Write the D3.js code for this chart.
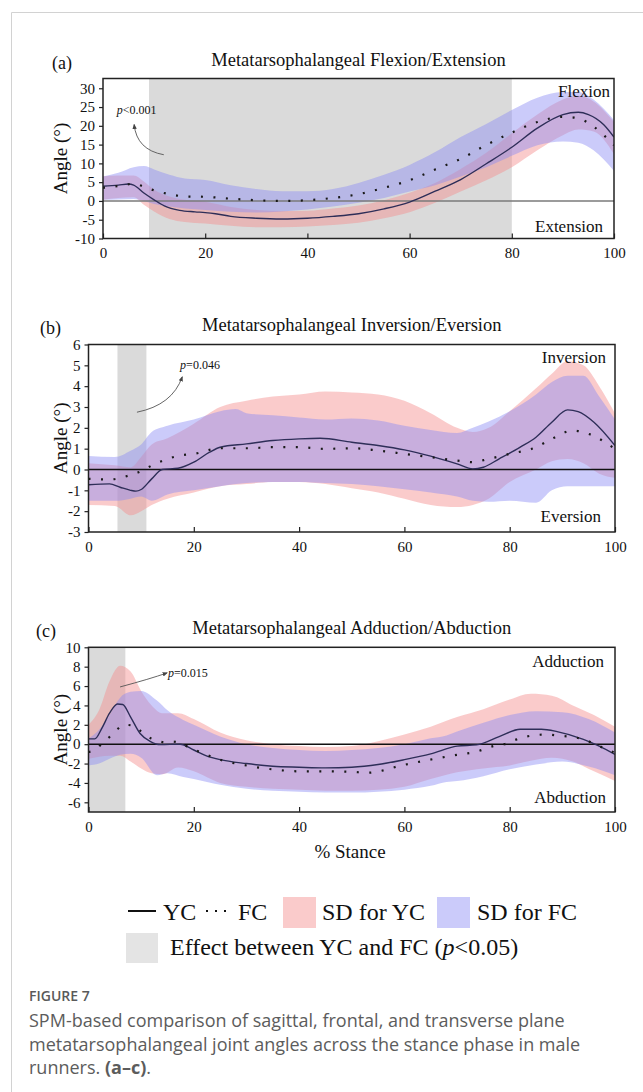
<!DOCTYPE html>
<html lang="en">
<head>
<meta charset="UTF-8">
<title>Figure 7 - MTP joint angles</title>
<script src="https://cdn.jsdelivr.net/npm/d3@7"></script>
<style>
  body { margin: 0; background: #fff; }
  svg { display: block; }
  .serif { font-family: "Liberation Serif", "Times New Roman", serif; fill: #111; }
  .cap { font-family: "Open Sans", "Noto Sans", sans-serif; }
</style>
</head>
<body>
<svg id="fig" width="643" height="1092"></svg>
<script>
// ---------- data (% stance vs angle in degrees) ----------
var stanceTicks = [0, 20, 40, 60, 80, 100];

// (a) flexion / extension
var aTicks = [-10, -5, 0, 5, 10, 15, 20, 25, 30];
var aEffect = [9, 80];
var aYC = [[0,3.9],[3,4.2],[5,4.5],[6,4.2],[8,2.1],[10,0.3],[12,-1.3],[15,-2.5],[18,-2.9],[20,-3.1],[22,-3.4],[25,-4.1],[30,-4.6],[35,-4.8],[40,-4.6],[45,-4.1],[50,-3.4],[55,-2.1],[60,-0.3],[65,2.6],[70,5.7],[75,9.9],[80,14.3],[85,19.4],[90,23.0],[93,23.6],[95,23.0],[98,20.3],[100,17.0]];
var aFC = [[0,3.5],[2,3.8],[4,4.2],[6,4.6],[8,3.8],[10,2.8],[13,1.8],[16,1.2],[20,1.1],[25,0.6],[30,0.2],[35,0.0],[40,0.2],[45,0.8],[50,1.8],[55,3.5],[60,5.5],[65,8.4],[70,11.2],[75,14.9],[80,18.2],[85,21.0],[90,22.4],[93,22.0],[96,19.8],[100,14.8]];
var aYCsd = [[0,0.3,6.6],[3,0.8,6.8],[6,1.0,6.8],[8,-1.0,5.2],[10,-2.8,3.0],[13,-4.8,1.2],[16,-5.6,0.3],[20,-6.0,-0.2],[25,-6.6,-1.6],[30,-7.0,-2.4],[35,-7.0,-2.7],[40,-6.8,-2.6],[45,-6.4,-2.0],[50,-5.8,-1.2],[55,-4.6,0.2],[60,-3.0,2.2],[65,-0.5,4.8],[70,2.5,8.5],[75,5.5,12.8],[80,9.0,18.0],[85,13.5,23.0],[90,17.5,27.0],[93,19.0,28.0],[96,18.5,26.5],[100,12.5,21.0]];
var aFCsd = [[0,0.3,6.5],[3,0.4,7.5],[6,0.5,9.0],[8,0.0,9.3],[10,-0.8,8.4],[13,-1.5,7.0],[16,-2.0,6.0],[20,-2.4,5.6],[25,-2.9,4.2],[30,-3.1,3.2],[35,-2.8,2.6],[40,-2.3,2.6],[45,-1.5,3.2],[50,-0.5,4.8],[55,0.8,7.0],[60,2.5,9.6],[65,4.2,13.0],[70,6.5,17.0],[75,9.0,20.5],[80,12.0,24.2],[85,14.8,27.5],[90,15.8,29.0],[93,15.5,29.0],[96,13.5,27.0],[100,8.0,21.5]];

// (b) inversion / eversion
var bTicks = [-3, -2, -1, 0, 1, 2, 3, 4, 5, 6];
var bEffect = [5.5, 11];
var bYC = [[0,-0.73],[4,-0.69],[6,-0.85],[8,-1.0],[9,-1.04],[10,-0.96],[12,-0.45],[14,0],[17,0.06],[20,0.35],[23,0.83],[25,1.07],[30,1.23],[35,1.39],[40,1.47],[44,1.5],[50,1.31],[55,1.15],[60,0.94],[65,0.64],[70,0.27],[73,0.03],[75,0.11],[78,0.51],[82,1.07],[85,1.55],[88,2.27],[91,2.86],[93,2.78],[96,2.27],[100,1.15]];
var bFC = [[0,-0.45],[4,-0.48],[8,-0.26],[10,-0.08],[12,0.19],[15,0.51],[18,0.7],[20,0.75],[25,1.02],[30,1.02],[35,1.07],[40,1.07],[45,0.99],[50,1.02],[55,0.91],[60,0.75],[65,0.59],[70,0.43],[73,0.35],[76,0.51],[80,0.75],[85,1.07],[88,1.47],[92,1.87],[95,1.71],[100,0.99]];
var bYCsd = [[0,-1.7,0.3],[5,-1.75,0.2],[8,-2.2,0.1],[10,-2.0,0.6],[12,-1.7,1.2],[15,-1.4,1.5],[20,-1.1,2.2],[25,-0.8,3.0],[30,-0.7,3.3],[35,-0.6,3.5],[40,-0.6,3.6],[45,-0.7,3.75],[50,-0.9,3.7],[55,-1.1,3.6],[60,-1.4,3.3],[65,-1.7,2.7],[70,-1.8,2.0],[73,-1.7,1.8],[76,-1.4,2.0],[80,-0.6,2.8],[85,0.0,3.9],[88,0.4,4.6],[91,0.5,5.2],[94,0.3,5.0],[97,-0.2,4.0],[100,-0.4,2.7]];
var bFCsd = [[0,-1.5,0.65],[5,-1.5,0.6],[8,-1.4,0.9],[10,-1.3,1.2],[12,-1.5,1.8],[15,-1.2,2.1],[20,-1.0,2.4],[25,-0.8,2.8],[28,-0.7,2.9],[30,-0.65,2.7],[35,-0.6,2.6],[40,-0.6,2.5],[45,-0.65,2.4],[50,-0.7,2.45],[55,-0.8,2.35],[60,-0.95,2.1],[65,-1.1,1.9],[70,-1.3,1.75],[73,-1.5,2.0],[76,-1.55,2.3],[80,-1.5,2.8],[85,-1.6,3.6],[88,-1.0,4.2],[91,-0.8,4.5],[94,-0.8,4.5],[97,-0.8,3.5],[100,-0.8,2.4]];

// (c) adduction / abduction
var cTicks = [-6, -4, -2, 0, 2, 4, 6, 8, 10];
var cEffect = [0, 7];
var cYC = [[0,0.55],[1.2,0.55],[2.5,1.6],[4,3.2],[5.5,4.15],[6.5,4.1],[8,2.8],[9.8,1.1],[11.7,0.3],[13.6,-0.05],[17.4,0],[20,-0.6],[22.4,-1.2],[25,-1.6],[30,-2.0],[35,-2.28],[40,-2.38],[45,-2.45],[50,-2.38],[55,-2.1],[60,-1.6],[65,-1.0],[70,-0.2],[73.7,-0.07],[78,0.78],[82,1.54],[86,1.54],[89,1.3],[94,0.5],[97,-0.2],[100,-1.06]];
var cFC = [[0,-0.8],[1.4,-0.55],[2.6,0.1],[4.1,0.8],[5.4,1.5],[6.8,2.0],[8.5,1.9],[9.8,1.4],[11.2,0.8],[12.9,0.4],[14.4,0.2],[16,0.27],[17.4,0.1],[19.1,-0.33],[22,-1.0],[25,-1.6],[30,-2.2],[35,-2.6],[40,-2.8],[45,-2.8],[50,-2.85],[53,-2.95],[56,-2.7],[59,-2.25],[63,-1.8],[70,-1.1],[73.7,-0.77],[77,-0.18],[79,0],[81,0.43],[83,0.77],[87,1.0],[89,0.9],[94,0.5],[97,-0.2],[100,-0.9]];
var cYCsd = [[0,-1.5,2.0],[2,-1.3,3.5],[4,-1.2,6.5],[6,-1.2,8.1],[8,-1.8,7.5],[10,-2.5,5.5],[12,-3.0,4.0],[14,-3.1,3.2],[17,-2.4,3.2],[20,-2.8,2.6],[25,-4.0,1.2],[30,-4.4,0.4],[35,-4.6,0.0],[40,-4.7,-0.2],[45,-4.8,-0.3],[50,-4.8,-0.2],[55,-4.7,0.3],[60,-4.4,1.0],[65,-3.6,1.8],[70,-2.9,2.8],[75,-2.5,3.6],[80,-2.2,4.6],[84,-1.7,5.2],[88,-1.4,5.0],[92,-1.8,4.0],[96,-2.8,3.0],[100,-3.8,1.8]];
var cFCsd = [[0,-2.2,0.6],[2,-2.0,1.5],[4,-1.5,3.0],[6,-1.1,4.8],[8,-1.0,5.4],[10,-1.4,5.5],[13,-3.2,4.5],[15,-3.0,3.5],[18,-3.4,2.5],[20,-3.6,2.0],[25,-4.2,0.8],[30,-4.6,0.0],[35,-4.8,-0.4],[40,-4.9,-0.6],[45,-5.0,-0.7],[50,-5.0,-0.6],[55,-4.9,-0.4],[60,-4.7,0.0],[65,-4.3,0.6],[68,-3.9,0.9],[70,-3.8,1.3],[75,-3.3,2.2],[80,-2.6,3.0],[85,-2.1,3.4],[90,-1.8,3.3],[95,-2.3,2.6],[100,-3.2,1.2]];

// ---------- styles ----------
var PINK = "rgba(244,140,140,0.45)";
var BLUE = "rgba(140,140,244,0.45)";
var GRAY = "#dadada";
var LINE = "#2e2e58";

var svg = d3.select("#fig");

// card outline
svg.append("path").attr("d", "M11.5,1092V12.5H643")
  .attr("fill", "none").attr("stroke", "#d2d2d2").attr("stroke-width", 1);

var defs = svg.append("defs");
defs.append("marker").attr("id", "arrow")
  .attr("viewBox", "0 0 10 10").attr("refX", 8).attr("refY", 5)
  .attr("markerWidth", 6).attr("markerHeight", 6).attr("orient", "auto")
  .append("path").attr("d", "M0,1L10,5L0,9z").attr("fill", "#444");

// plain hyphen for negatives, as in the original figure
var tickFmt = function(d) { return String(d); };

function drawPanel(p) {
  var x = d3.scaleLinear().domain([0, 100]).range([p.left, p.right]);
  var y = d3.scaleLinear().domain(p.yDomain).range([p.bottom, p.top]);
  var g = svg.append("g");

  defs.append("clipPath").attr("id", "clip-" + p.id)
    .append("rect").attr("x", p.left).attr("y", p.top)
    .attr("width", p.right - p.left).attr("height", p.bottom - p.top);
  var body = g.append("g").attr("clip-path", "url(#clip-" + p.id + ")");

  // significant region
  body.append("rect")
    .attr("x", x(p.effect[0])).attr("y", p.top)
    .attr("width", x(p.effect[1]) - x(p.effect[0]))
    .attr("height", p.bottom - p.top)
    .attr("fill", GRAY);

  var area = d3.area().curve(d3.curveMonotoneX)
    .x(function(d) { return x(d[0]); })
    .y0(function(d) { return y(d[1]); })
    .y1(function(d) { return y(d[2]); });
  body.append("path").datum(p.ycSD).attr("d", area).attr("fill", PINK);
  body.append("path").datum(p.fcSD).attr("d", area).attr("fill", BLUE);

  // zero line
  body.append("line")
    .attr("x1", p.left).attr("x2", p.right)
    .attr("y1", y(0)).attr("y2", y(0))
    .attr("stroke", p.zeroColor).attr("stroke-width", 1.4);

  var line = d3.line().curve(d3.curveMonotoneX)
    .x(function(d) { return x(d[0]); })
    .y(function(d) { return y(d[1]); });
  body.append("path").datum(p.yc).attr("d", line)
    .attr("fill", "none").attr("stroke", LINE).attr("stroke-width", 1.4);
  body.append("path").datum(p.fc).attr("d", line)
    .attr("fill", "none").attr("stroke", "#1a1a1a").attr("stroke-width", 2.2)
    .attr("stroke-dasharray", "2,10.5");

  // axes
  var yAxis = d3.axisLeft(y).tickValues(p.yTicks).tickFormat(tickFmt)
    .tickSize(4).tickPadding(4).tickSizeOuter(0);
  var ya = g.append("g").attr("transform", "translate(" + p.left + ",0)").call(yAxis);
  var xAxis = d3.axisBottom(x).tickValues(stanceTicks).tickFormat(tickFmt)
    .tickSize(-5).tickPadding(9).tickSizeOuter(0);
  var xa = g.append("g").attr("transform", "translate(0," + p.bottom + ")").call(xAxis);
  [ya, xa].forEach(function(a) {
    a.select(".domain").remove();
    a.selectAll("line").attr("stroke", "#222").attr("stroke-width", 1.2);
    a.selectAll("text").attr("class", "serif").style("font-size", "15px").attr("fill", "#111");
  });

  // frame
  g.append("rect").attr("x", p.left).attr("y", p.top)
    .attr("width", p.right - p.left).attr("height", p.bottom - p.top)
    .attr("fill", "none").attr("stroke", "#222").attr("stroke-width", 1.5);

  // texts
  g.append("text").attr("class", "serif").attr("x", p.labelX).attr("y", p.titleY + 3)
    .style("font-size", "18px").text(p.label);
  g.append("text").attr("class", "serif").attr("x", (p.left + p.right) / 2).attr("y", p.titleY)
    .attr("text-anchor", "middle").style("font-size", "18.5px").text(p.title);
  g.append("text").attr("class", "serif")
    .attr("transform", "translate(67," + ((p.top + p.bottom) / 2) + ") rotate(-90)")
    .attr("text-anchor", "middle").style("font-size", "19px").text("Angle (\u00B0)");
  g.append("text").attr("class", "serif").attr("x", p.right - p.upDx).attr("y", p.top + p.upDy)
    .attr("text-anchor", "end").style("font-size", "17px").text(p.upper);
  g.append("text").attr("class", "serif").attr("x", p.right - p.loDx).attr("y", p.bottom - p.loDy)
    .attr("text-anchor", "end").style("font-size", "17px").text(p.lower);

  // p-value annotation with curved arrow
  var t = g.append("text").attr("class", "serif")
    .attr("x", x(p.note.at[0])).attr("y", y(p.note.at[1])).style("font-size", "12px");
  t.append("tspan").style("font-style", "italic").text("p");
  t.append("tspan").text(p.note.text);
  var c = p.note.arrow;
  g.append("path")
    .attr("d", "M" + x(c[0][0]) + "," + y(c[0][1]) +
               "Q" + x(c[1][0]) + "," + y(c[1][1]) + " " + x(c[2][0]) + "," + y(c[2][1]))
    .attr("fill", "none").attr("stroke", "#555").attr("stroke-width", 0.9)
    .attr("marker-end", "url(#arrow)");
}

drawPanel({
  id: "a", left: 103, right: 614, top: 78.5, bottom: 238.5, yDomain: [-10, 32.6],
  yTicks: aTicks, effect: aEffect, yc: aYC, fc: aFC, ycSD: aYCsd, fcSD: aFCsd,
  zeroColor: "#7a7a7a", label: "(a)", labelX: 52, titleY: 66,
  title: "Metatarsophalangeal Flexion/Extension",
  upper: "Flexion", upDx: 4, upDy: 18, lower: "Extension", loDx: 11, loDy: 7,
  note: { at: [2.7, 23.2], text: "<0.001", arrow: [[11.9, 12.3], [6.6, 13.6], [6.1, 20.3]] }
});
drawPanel({
  id: "b", left: 88.5, right: 615, top: 344.5, bottom: 532, yDomain: [-3, 6],
  yTicks: bTicks, effect: bEffect, yc: bYC, fc: bFC, ycSD: bYCsd, fcSD: bFCsd,
  zeroColor: "#111", label: "(b)", labelX: 40, titleY: 331,
  title: "Metatarsophalangeal Inversion/Eversion",
  upper: "Inversion", upDx: 9, upDy: 18, lower: "Eversion", loDx: 14, loDy: 10,
  note: { at: [17.4, 4.82], text: "=0.046", arrow: [[9.2, 2.75], [15.9, 3.09], [17.8, 4.44]] }
});
drawPanel({
  id: "c", left: 88.5, right: 615, top: 647.3, bottom: 812, yDomain: [-7, 10],
  yTicks: cTicks, effect: cEffect, yc: cYC, fc: cFC, ycSD: cYCsd, fcSD: cFCsd,
  zeroColor: "#111", label: "(c)", labelX: 36, titleY: 634,
  title: "Metatarsophalangeal Adduction/Abduction",
  upper: "Adduction", upDx: 11, upDy: 20, lower: "Abduction", loDx: 9, loDy: 9,
  note: { at: [15.1, 6.93], text: "=0.015", arrow: [[6.0, 5.91], [11.7, 6.74], [14.9, 7.35]] }
});

svg.append("text").attr("class", "serif").attr("x", 350).attr("y", 858)
  .attr("text-anchor", "middle").style("font-size", "19px").text("% Stance");

// ---------- legend ----------
var leg = svg.append("g").attr("class", "serif").style("font-size", "24px");
leg.append("line").attr("x1", 128).attr("x2", 156).attr("y1", 911).attr("y2", 911)
  .attr("stroke", "#111").attr("stroke-width", 2);
leg.append("text").attr("x", 163).attr("y", 920).text("YC");
leg.append("line").attr("x1", 206).attr("x2", 230).attr("y1", 911).attr("y2", 911)
  .attr("stroke", "#111").attr("stroke-width", 2.2).attr("stroke-dasharray", "2,7");
leg.append("text").attr("x", 238).attr("y", 920).text("FC");
leg.append("rect").attr("x", 283).attr("y", 897).attr("width", 33).attr("height", 31).attr("fill", PINK);
leg.append("text").attr("x", 322).attr("y", 920).text("SD for YC");
leg.append("rect").attr("x", 437).attr("y", 897).attr("width", 33).attr("height", 31).attr("fill", BLUE);
leg.append("text").attr("x", 477).attr("y", 920).text("SD for FC");
leg.append("rect").attr("x", 126).attr("y", 933).attr("width", 32).attr("height", 30).attr("fill", "#e4e4e4");
var eff = leg.append("text").attr("x", 170).attr("y", 955);
eff.append("tspan").text("Effect between YC and FC (");
eff.append("tspan").style("font-style", "italic").text("p");
eff.append("tspan").text("<0.05)");

// ---------- caption ----------
var cap = svg.append("g").attr("class", "cap");
cap.append("text").attr("x", 29).attr("y", 1001).attr("fill", "#5a5a5a")
  .style("font-size", "14px").style("font-weight", 600).text("FIGURE 7");
var capLines = [
  "SPM-based comparison of sagittal, frontal, and transverse plane",
  "metatarsophalangeal joint angles across the stance phase in male"
];
capLines.forEach(function(s, i) {
  cap.append("text").attr("x", 29).attr("y", 1027 + i * 23.5).attr("fill", "#5c5c5c")
    .style("font-size", "18px").text(s);
});
var last = cap.append("text").attr("x", 29).attr("y", 1074).attr("fill", "#5c5c5c").style("font-size", "18px");
last.append("tspan").text("runners. ");
last.append("tspan").style("font-weight", 700).text("(a\u2013c)");
last.append("tspan").text(".");
</script>
</body>
</html>
